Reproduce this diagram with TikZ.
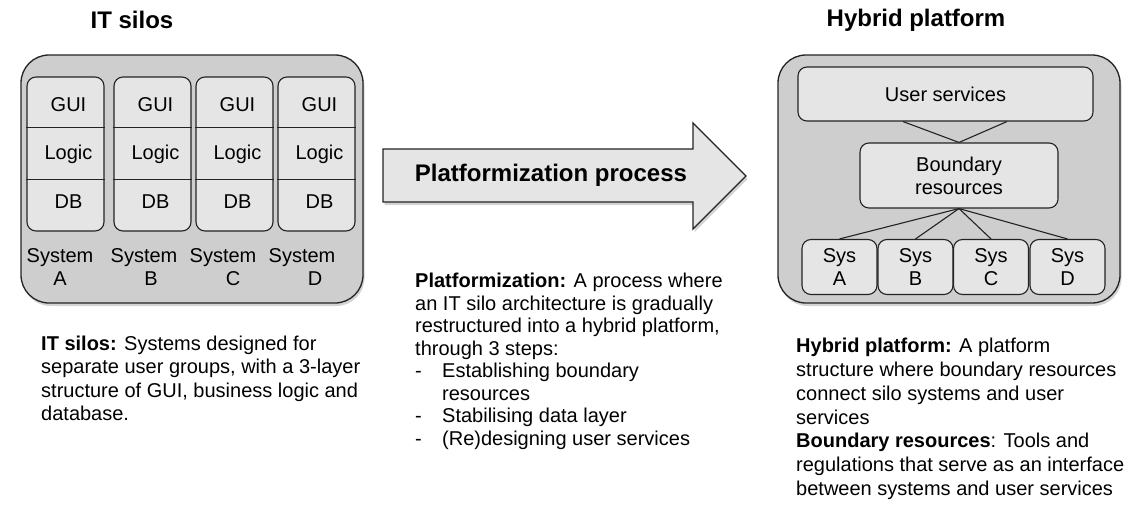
\documentclass[tikz,border=0pt]{standalone}
\usepackage{fontspec}
\setmainfont{Liberation Sans}
\usepackage{tikz}
\usetikzlibrary{shadows}

\definecolor{boxgray}{RGB}{206,206,206}
\definecolor{cellgray}{RGB}{229,229,229}
\definecolor{linegray}{RGB}{35,35,35}

\begin{document}
\begin{tikzpicture}[x=1pt, y=-1pt,
    every node/.style={font=\fontsize{20}{23}\selectfont, inner sep=0pt},
    outerbox/.style={draw=linegray, line width=1.3pt, fill=boxgray, rounded corners=28pt,
        drop shadow={shadow xshift=1.5pt, shadow yshift=-3pt, opacity=0.35}},
    cellbox/.style={draw=linegray, line width=1.1pt, fill=cellgray, rounded corners=9pt},
    link/.style={draw=linegray, line width=1.1pt},
    heading/.style={font=\fontsize{24}{28}\selectfont\bfseries},
    desc/.style={anchor=north west, align=left}
]
                \useasboundingbox (0,0) rectangle (1127,506);

                % Titles
                \node[heading] (silotitle) at (132,20) {IT silos};
                \node[heading] (hybridtitle) at (916,20) {Hybrid platform};

                % IT silos
                \node[outerbox, minimum width=342pt, minimum height=248pt] (silos) at (192,179) {};
                \foreach \n/\xa/\xb in {A/27/104, B/114/191, C/196/273, D/278/355} {
                    \node[cellbox, minimum width={(\xb-\xa)*1pt}, minimum height=154pt] (col\n) at ({(\xa+\xb)/2},154) {};
                    \draw[link] ([yshift=-51pt]col\n.north west) -- ([yshift=-51pt]col\n.north east);
                    \draw[link] ([yshift=-103pt]col\n.north west) -- ([yshift=-103pt]col\n.north east);
                    \node (gui\n) at ([xshift=3pt, yshift=-28pt]col\n.north) {GUI};
                    \node (logic\n) at ([xshift=3pt, yshift=-78pt]col\n.north) {Logic};
                    \node (db\n) at ([xshift=3pt, yshift=-125pt]col\n.north) {DB};
                }
                \foreach \n/\xs/\xl in {A/60/60, B/144/151, C/223/233, D/302/315} {
                    \node (system\n) at (\xs,258) {System};
                    \node (letter\n) at (\xl,279) {\n};
                }

                % Process arrow
                \draw[draw=linegray, line width=1.3pt, fill=cellgray,
                    drop shadow={shadow xshift=1.5pt, shadow yshift=-3pt, opacity=0.35}]
                    (383,149) -- (693,149) -- (693,123) -- (746,176) -- (693,229) -- (693,202) -- (383,202) -- cycle;
                \node[heading] (process) at (551,175) {Platformization process};

                % Hybrid platform
                \node[outerbox, minimum width=342pt, minimum height=248pt] (hybrid) at (949,179) {};
                \node[cellbox, minimum width=295pt, minimum height=54pt] (users) at (945.5,94) {User services};
                \node[cellbox, minimum width=198pt, minimum height=65pt, align=center] (bound) at (959,175.5) {Boundary\\resources};
                \foreach \n/\x in {A/839.5, B/915.5, C/991, D/1067.5}
                    \node[cellbox, minimum width=75pt, minimum height=55pt, align=center] (sys\n) at (\x,267) {Sys\\\n};
                \draw[link] ([xshift=-42.5pt]users.south) -- (bound.north) -- ([xshift=61.5pt]users.south);
                \foreach \n in {A,B,C,D}
                    \draw[link] (bound.south) -- (sys\n.north);

                % Descriptions
                \node[desc, font=\fontsize{20}{23.3}\selectfont] (silotext) at (41,336) {
                    \textbf{IT silos:} Systems designed for\\
                    separate user groups, with a 3-layer\\
                    structure of GUI, business logic and\\
                    database.};
                \node[desc, font=\fontsize{20}{22.5}\selectfont] (processtext) at (415,273) {
                    \textbf{Platformization:} A process where\\
                    an IT silo architecture is gradually\\
                    restructured into a hybrid platform,\\
                    through 3 steps:\\
                    \makebox[27pt][l]{-}Establishing boundary\\
                    \hspace*{27pt}resources\\
                    \makebox[27pt][l]{-}Stabilising data layer\\
                    \makebox[27pt][l]{-}(Re)designing user services};
                \node[desc, font=\fontsize{20}{23.8}\selectfont] (hybridtext) at (796,338) {
                    \textbf{Hybrid platform:} A platform\\
                    structure where boundary resources\\
                    connect silo systems and user\\
                    services\\
                    \textbf{Boundary resources}: Tools and\\
                    regulations that serve as an interface\\
                    between systems and user services};
            \end{tikzpicture}
\end{document}
